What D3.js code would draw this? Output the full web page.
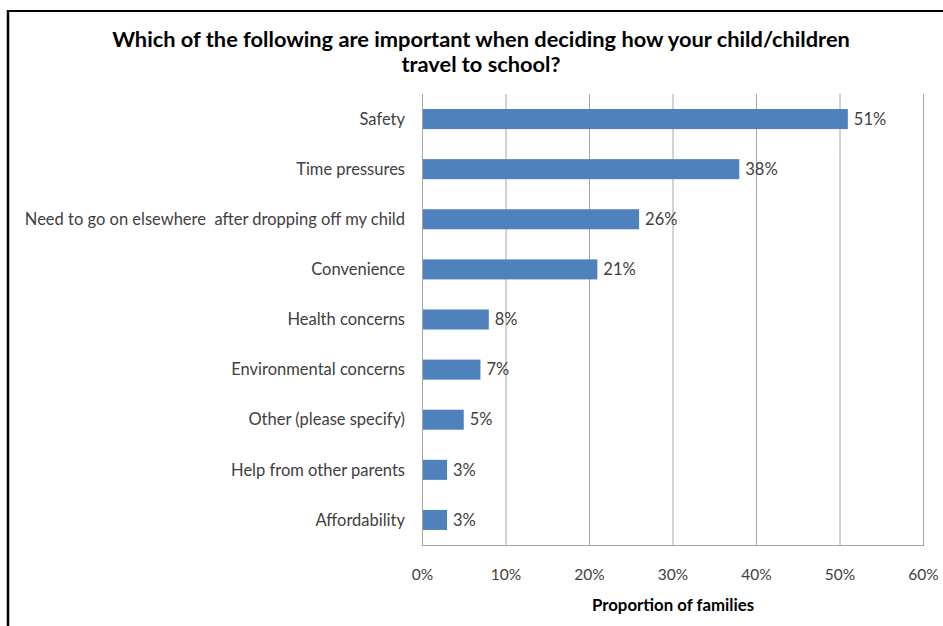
<!DOCTYPE html>
<html>
<head>
<meta charset="utf-8">
<script src="https://cdn.jsdelivr.net/npm/d3@7"></script>
<style>
  html, body { margin: 0; padding: 0; background: #fff; }
  svg { display: block; }
  text { font-family: Lato, "Open Sans", sans-serif; fill: #262626; }
</style>
</head>
<body>
<svg id="chart" width="943" height="626"></svg>
<script>
// Survey responses: share of families naming each factor
const categories = [
  "Safety",
  "Time pressures",
  "Need to go on elsewhere  after dropping off my child",
  "Convenience",
  "Health concerns",
  "Environmental concerns",
  "Other (please specify)",
  "Help from other parents",
  "Affordability"
];
const values = [51, 38, 26, 21, 8, 7, 5, 3, 3];
const xTicks = [0, 10, 20, 30, 40, 50, 60];
const titleLines = [
  "Which of the following are important when deciding how your child/children",
  "travel to school?"
];
const xAxisTitle = "Proportion of families";

const svg = d3.select("#chart");
const W = 943, H = 626;
const plot = { left: 422, right: 923, top: 94, bottom: 545 };

// Outer frame (top and left edges visible)
svg.append("line").attr("x1", 8).attr("x2", W).attr("y1", 11).attr("y2", 11)
  .attr("stroke", "#000").attr("stroke-width", 2);
svg.append("line").attr("x1", 8).attr("x2", 8).attr("y1", 10).attr("y2", H)
  .attr("stroke", "#000").attr("stroke-width", 2.5);

// Title
svg.append("g").selectAll("text").data(titleLines).join("text")
  .attr("x", 481).attr("y", (d, i) => 47 + i * 25)
  .attr("text-anchor", "middle")
  .style("font-size", "21.8px").style("font-weight", "bold").style("fill", "#000")
  .text(d => d);

const x = d3.scaleLinear().domain([0, 60]).range([plot.left, plot.right]);
const y = d3.scaleBand().domain(categories)
  .range([plot.top, plot.bottom]).paddingInner(0.6).paddingOuter(0.3);

// Vertical gridlines
svg.append("g").selectAll("line").data(xTicks).join("line")
  .attr("x1", d => x(d) + 0.5).attr("x2", d => x(d) + 0.5)
  .attr("y1", plot.top).attr("y2", plot.bottom)
  .attr("stroke", "#a6a6a6").attr("stroke-width", 1);

// Bottom axis line
svg.append("line")
  .attr("x1", plot.left).attr("x2", plot.right + 1)
  .attr("y1", plot.bottom + 0.5).attr("y2", plot.bottom + 0.5)
  .attr("stroke", "#a6a6a6");

// X axis tick labels
const xAxis = d3.axisBottom(x).tickValues(xTicks).tickFormat(d => d + "%").tickSize(0).tickPadding(0);
const gx = svg.append("g").attr("transform", `translate(0,${plot.bottom + 24})`).call(xAxis);
gx.select(".domain").remove();
gx.selectAll("text").style("font-size", "15.5px").style("fill", "#404040")
  .attr("font-family", null);

// Axis title
svg.append("text").attr("x", 673).attr("y", 611).attr("text-anchor", "middle")
  .style("font-size", "16.8px").style("font-weight", "bold").style("fill", "#000")
  .text(xAxisTitle);

// Bars
const rows = categories.map((c, i) => ({ c, v: values[i] }));
svg.append("g").selectAll("rect").data(rows).join("rect")
  .attr("x", x(0) + 1)
  .attr("y", d => y(d.c))
  .attr("width", d => x(d.v) - x(0) - 1)
  .attr("height", y.bandwidth())
  .attr("fill", "#4f81bd");

// Value labels
svg.append("g").selectAll("text").data(rows).join("text")
  .attr("x", d => x(d.v) + 6)
  .attr("y", d => y(d.c) + y.bandwidth() / 2)
  .attr("dy", "0.35em")
  .style("font-size", "16.5px").style("fill", "#404040")
  .text(d => d.v + "%");

// Category labels
svg.append("g").selectAll("text").data(rows).join("text")
  .attr("x", plot.left - 17)
  .attr("y", d => y(d.c) + y.bandwidth() / 2)
  .attr("dy", "0.35em")
  .attr("text-anchor", "end")
  .style("font-size", "16.5px").style("fill", "#404040")
  .style("white-space", "pre")
  .text(d => d.c);
</script>
</body>
</html>
